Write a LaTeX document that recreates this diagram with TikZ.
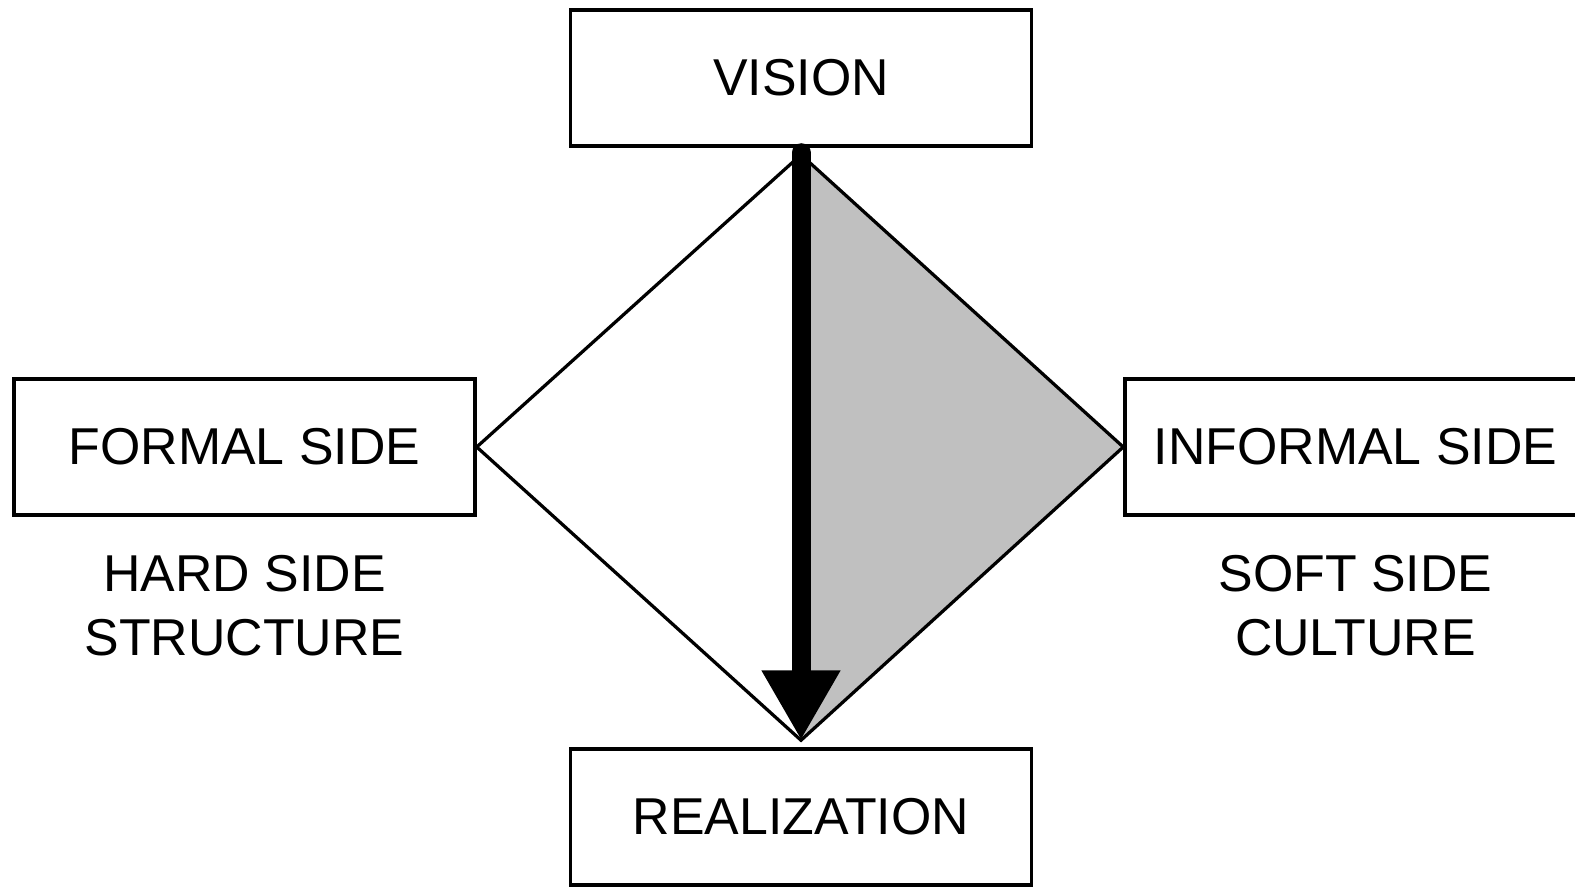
\documentclass[tikz,border=0pt]{standalone}
\usepackage{fontspec}
\setmainfont{Liberation Sans}
\usetikzlibrary{arrows.meta}
\definecolor{halfgray}{RGB}{192,192,192}

\begin{document}
\begin{tikzpicture}[
  box/.style={draw, line width=0.07cm, minimum width=9.22cm, minimum height=2.72cm, inner sep=0pt},
  side/.style={align=center, inner sep=0pt},
  edge/.style={line width=0.065cm},
  font=\fontsize{29.5}{36.5}\selectfont]
\path [use as bounding box, fill=white] (0,0) rectangle (31.5,17.72);
\node [box] (vision) at (16.02,16.16) {VISION};
\node [box] (formal) at (4.89,8.78) {FORMAL SIDE};
\node [box] (informal) at (27.11,8.78) {INFORMAL SIDE};
\node [box] (real) at (16.02,1.38) {REALIZATION};
\node [side] (hard) at (4.89,5.6) {HARD SIDE\\STRUCTURE};
\node [side] (soft) at (27.11,5.6) {SOFT SIDE\\CULTURE};
\coordinate (top) at ([yshift=-0.14cm]vision.south);
\coordinate (bot) at ([yshift=0.14cm]real.north);
% shaded half of the diamond
\fill [halfgray] (top) -- (informal.west) -- (bot) -- cycle;
\draw [edge] (top) -- (formal.east) -- (bot) -- (informal.west) -- cycle;
\draw [line width=0.38cm, line cap=round, -{Triangle[length=1.4cm, width=1.48cm]}] ([yshift=-0.1cm]vision.south) -- (bot);
\end{tikzpicture}
\end{document}
